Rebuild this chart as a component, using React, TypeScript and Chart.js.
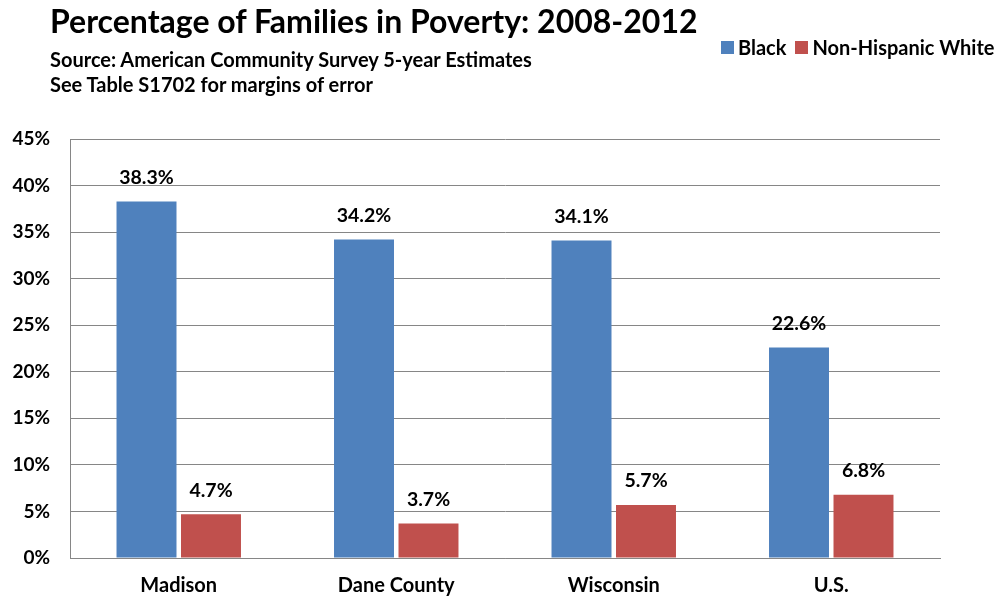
import React, { useEffect, useRef } from "react";
import { Chart, registerables } from "chart.js";

Chart.register(...registerables);

const categories = ["Madison", "Dane County", "Wisconsin", "U.S."];
const blackValues = [38.3, 34.2, 34.1, 22.6];
const whiteValues = [4.7, 3.7, 5.7, 6.8];
const seriesNames = ["Black", "Non-Hispanic White"];
const yTicks = [0, 5, 10, 15, 20, 25, 30, 35, 40, 45];

const BLUE = "#4F81BD";
const RED = "#C0504D";
const FONT = "Lato, 'Noto Sans', sans-serif";

const dataLabelPlugin = {
  id: "dataLabels",
  afterDatasetsDraw(chart: any) {
    const ctx = chart.ctx;
    ctx.save();
    ctx.font = `bold 19.5px ${FONT}`;
    ctx.fillStyle = "#000";
    ctx.textAlign = "center";
    ctx.textBaseline = "middle";
    chart.data.datasets.forEach((ds: any, i: number) => {
      const meta = chart.getDatasetMeta(i);
      meta.data.forEach((el: any, j: number) => {
        const v = ds.data[j] as number;
        ctx.fillText(v.toFixed(1) + "%", el.x, el.y - 24);
      });
    });
    ctx.restore();
  },
};

export default function App() {
  const ref = useRef<HTMLCanvasElement | null>(null);

  useEffect(() => {
    document.body.style.margin = "0";
    if (!ref.current) return;
    const chart = new Chart(ref.current, {
      type: "bar",
      data: {
        labels: categories,
        datasets: [
          {
            label: seriesNames[0],
            data: blackValues,
            backgroundColor: BLUE,
            categoryPercentage: 0.593,
            barPercentage: 0.93,
          },
          {
            label: seriesNames[1],
            data: whiteValues,
            backgroundColor: RED,
            categoryPercentage: 0.593,
            barPercentage: 0.93,
          },
        ],
      },
      options: {
        animation: false,
        responsive: false,
        maintainAspectRatio: false,
        layout: { padding: { left: 0, top: 139, right: 58, bottom: 0 } },
        plugins: {
          legend: { display: false },
          title: { display: false },
          tooltip: { enabled: false },
        },
        scales: {
          x: {
            grid: { display: false, drawTicks: false },
            border: { display: true, color: "#868686", width: 1 },
            ticks: {
              color: "#000",
              font: { family: FONT, size: 20, weight: "bold" },
              padding: 16,
            },
            afterFit(scale: any) {
              scale.height = 41;
            },
          },
          y: {
            min: 0,
            max: 45,
            afterBuildTicks(scale: any) {
              scale.ticks = yTicks.map((v) => ({ value: v }));
            },
            grid: { color: "#868686", lineWidth: 1, drawTicks: false },
            border: { display: true, color: "#868686", width: 1 },
            ticks: {
              color: "#000",
              font: { family: FONT, size: 19, weight: "bold" },
              padding: 20,
              callback: (v: any) => v + "%",
            },
            afterFit(scale: any) {
              scale.width = 70;
            },
          },
        },
      },
      plugins: [dataLabelPlugin],
    });
    return () => chart.destroy();
  }, []);

  const textStyle: React.CSSProperties = {
    position: "absolute",
    fontFamily: FONT,
    fontWeight: "bold",
    color: "#000",
    whiteSpace: "nowrap",
    margin: 0,
  };

  return (
    <div style={{ position: "relative", width: 998, height: 599, background: "#fff" }}>
      <canvas ref={ref} width={998} height={599} style={{ width: 998, height: 599, display: "block" }} />
      <div style={{ ...textStyle, left: 50, top: 1, fontSize: 32, lineHeight: "40px" }}>
        Percentage of Families in Poverty: 2008-2012
      </div>
      <div style={{ ...textStyle, left: 50, top: 47, fontSize: 20, lineHeight: "25px" }}>
        Source: American Community Survey 5-year Estimates
        <br />
        See Table S1702 for margins of error
      </div>
      <div style={{ ...textStyle, left: 721, top: 36, fontSize: 20, lineHeight: "22px", display: "flex", alignItems: "center" }}>
        <span style={{ display: "inline-block", width: 13, height: 13, background: BLUE, marginRight: 4 }} />
        <span style={{ marginRight: 9 }}>{seriesNames[0]}</span>
        <span style={{ display: "inline-block", width: 13, height: 13, background: RED, marginRight: 4 }} />
        <span>{seriesNames[1]}</span>
      </div>
    </div>
  );
}
